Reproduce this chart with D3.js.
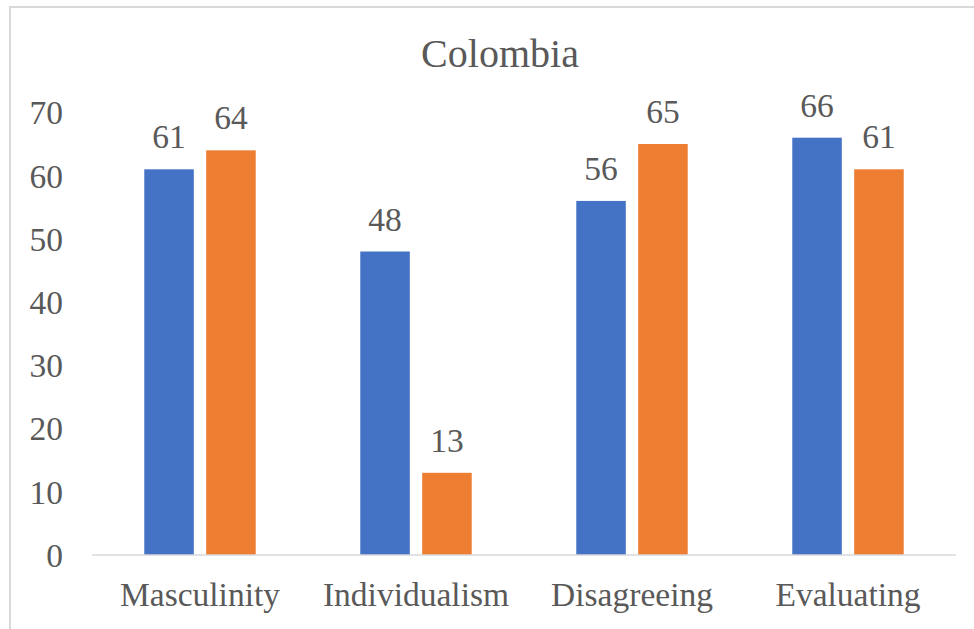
<!DOCTYPE html>
<html>
<head>
<meta charset="utf-8">
<script src="https://cdn.jsdelivr.net/npm/d3@7"></script>
</head>
<body style="margin:0">
<svg id="chart" width="974" height="629" style="display:block"></svg>
<script>
// Chart data
const title = "Colombia";
const categories = ["Masculinity", "Individualism", "Disagreeing", "Evaluating"];
const seriesNames = ["Series A", "Series B"];
const seriesA = [61, 48, 56, 66];
const seriesB = [64, 13, 65, 61];
const yTicks = [0, 10, 20, 30, 40, 50, 60, 70];
const colors = ["#4472C4", "#ED7D31"];

const FONT = "Liberation Serif";
const TEXT_COLOR = "#595959";
const LABEL_SIZE = 33.5;

const rows = categories.map((c, i) => ({ category: c, values: [seriesA[i], seriesB[i]] }));

const svg = d3.select("#chart");
const W = 974, H = 629;
const plot = { left: 92, right: 956, top: 112.4, bottom: 555 };

// Chart frame
svg.append("rect")
  .attr("x", 10).attr("y", 7)
  .attr("width", W + 20).attr("height", H + 20)
  .attr("fill", "#ffffff")
  .attr("stroke", "#d9d9d9")
  .attr("stroke-width", 2);

// Title
svg.append("text")
  .attr("x", 500)
  .attr("y", 67)
  .attr("text-anchor", "middle")
  .attr("font-family", FONT)
  .attr("font-size", 40)
  .attr("fill", TEXT_COLOR)
  .text(title);

// Scales
const x0 = d3.scaleBand()
  .domain(categories)
  .range([plot.left, plot.right])
  .paddingInner(0.484)
  .paddingOuter(0.242);

const x1 = d3.scaleBand()
  .domain(d3.range(seriesNames.length))
  .range([0, x0.bandwidth()])
  .paddingInner(0.2)
  .paddingOuter(0);

const y = d3.scaleLinear()
  .domain([0, 70])
  .range([plot.bottom, plot.top]);

// Y axis labels (no axis line, no gridlines)
const yAxis = d3.axisLeft(y).tickValues(yTicks).tickSize(0).tickPadding(0);
const gy = svg.append("g")
  .attr("transform", "translate(63,0)")
  .call(yAxis)
  .attr("font-family", FONT)
  .attr("font-size", LABEL_SIZE);
gy.select(".domain").remove();
gy.selectAll("text")
  .attr("font-family", FONT)
  .attr("font-size", LABEL_SIZE)
  .attr("fill", TEXT_COLOR)
  .attr("dy", "0.34em");

// Bars
const groups = svg.append("g").selectAll("g")
  .data(rows)
  .join("g")
  .attr("transform", d => `translate(${x0(d.category)},0)`);

groups.selectAll("rect")
  .data(d => d.values.map((v, i) => ({ v, i })))
  .join("rect")
  .attr("x", d => x1(d.i))
  .attr("y", d => y(d.v))
  .attr("width", x1.bandwidth())
  .attr("height", d => y(0) - y(d.v))
  .attr("fill", d => colors[d.i]);

// Value labels
groups.selectAll("text.value")
  .data(d => d.values.map((v, i) => ({ v, i })))
  .join("text")
  .attr("class", "value")
  .attr("x", d => x1(d.i) + x1.bandwidth() / 2)
  .attr("y", d => y(d.v) - 21)
  .attr("text-anchor", "middle")
  .attr("font-family", FONT)
  .attr("font-size", LABEL_SIZE)
  .attr("fill", TEXT_COLOR)
  .text(d => d.v);

// Baseline
svg.append("line")
  .attr("x1", plot.left).attr("x2", plot.right)
  .attr("y1", y(0)).attr("y2", y(0))
  .attr("stroke", "#d9d9d9")
  .attr("stroke-width", 1.5);

// Category axis labels
const xAxis = d3.axisBottom(x0).tickSize(0).tickPadding(0);
const gx = svg.append("g")
  .attr("transform", `translate(0,${plot.bottom})`)
  .call(xAxis)
  .attr("font-family", FONT)
  .attr("font-size", LABEL_SIZE);
gx.select(".domain").remove();
gx.selectAll("text")
  .attr("font-family", FONT)
  .attr("font-size", LABEL_SIZE)
  .attr("fill", TEXT_COLOR)
  .attr("dy", 0)
  .attr("y", 51);
</script>
</body>
</html>
